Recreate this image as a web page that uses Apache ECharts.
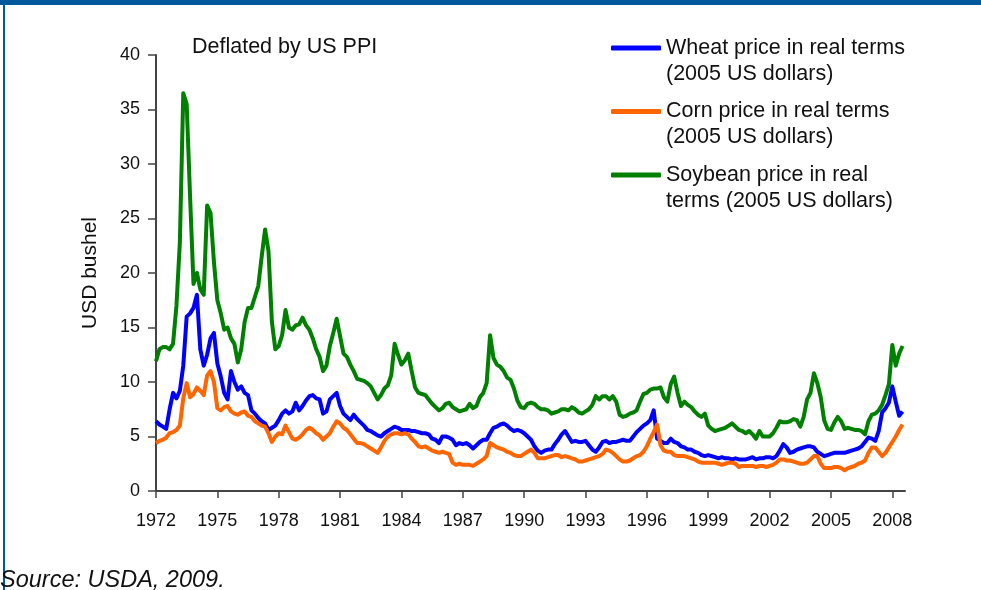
<!DOCTYPE html>
<html>
<head>
<meta charset="utf-8">
<script src="https://cdn.jsdelivr.net/npm/echarts@6/dist/echarts.min.js"></script>
<style>
  html, body { margin: 0; padding: 0; background: #fff; }
  #chart { width: 981px; height: 590px; }
</style>
</head>
<body>
<div id="chart"></div>
<script>
// bimonthly readings, 6 per year, starting Jan 1972
const startYear = 1972;
const perYear = 6;

const wheat = [
  6.4, 6.1, 5.9, 5.7, 7.5, 9.0,
  8.5, 9.2, 11.5, 16.0, 16.3, 16.8,
  18.0, 13.0, 11.5, 12.5, 14.0, 14.5,
  11.7, 10.5, 9.0, 8.4, 11.0, 10.0,
  9.3, 9.6, 9.0, 8.8, 7.4, 7.1,
  6.7, 6.4, 6.2, 5.6, 5.8, 6.0,
  6.5, 7.1, 7.4, 7.1, 7.3, 8.1,
  7.4, 7.8, 8.3, 8.7, 8.8, 8.5,
  8.4, 7.1, 7.3, 8.4, 8.7, 9.0,
  7.8, 7.1, 6.8, 6.5, 7.0, 6.6,
  6.3, 6.0, 5.6, 5.5, 5.3, 5.1,
  5.0, 5.3, 5.5, 5.7, 5.9, 5.8,
  5.6, 5.6, 5.6, 5.5, 5.5, 5.4,
  5.3, 5.3, 5.2, 4.8, 4.7, 4.4,
  5.0, 5.0, 4.9, 4.7, 4.2, 4.4,
  4.3, 4.4, 4.2, 3.9, 4.2, 4.5,
  4.7, 4.7, 5.3, 5.8, 5.9, 6.1,
  6.2, 6.0, 5.7, 5.5, 5.6, 5.5,
  5.3, 5.0, 4.7, 4.1, 3.7, 3.5,
  3.7, 3.8, 3.8, 4.3, 4.7, 5.2,
  5.5, 5.0, 4.5, 4.6, 4.5, 4.5,
  4.6, 4.2, 3.8, 3.6, 4.0, 4.5,
  4.6, 4.4, 4.5, 4.5, 4.6, 4.7,
  4.6, 4.6, 5.0, 5.4, 5.7, 6.0,
  6.2, 6.5, 7.4, 4.8, 4.6, 4.4,
  4.4, 4.8, 4.5, 4.4, 4.1, 4.0,
  3.8, 3.8, 3.6, 3.5, 3.3, 3.2,
  3.3, 3.2, 3.1, 3.0, 3.1, 3.0,
  3.0, 2.9, 3.0, 2.9, 2.9, 2.9,
  3.0, 3.1, 2.9, 3.0, 3.0, 3.1,
  3.1, 3.0, 3.2, 3.7, 4.3, 4.0,
  3.5, 3.6, 3.8, 3.9, 4.0, 4.1,
  4.1, 4.0, 3.6, 3.4, 3.2, 3.3,
  3.4, 3.5, 3.5, 3.5, 3.5, 3.6,
  3.7, 3.8, 3.9, 4.1, 4.5, 4.9,
  4.8, 4.6, 5.5, 7.2, 7.6, 8.1,
  9.6, 8.2, 6.9, 7.3
];

const corn = [
  4.4, 4.6, 4.7, 4.9, 5.3, 5.4,
  5.6, 6.0, 8.5, 9.9, 8.6, 8.9,
  9.5, 9.2, 8.8, 10.6, 11.0, 10.0,
  7.6, 7.4, 7.7, 7.8, 7.3, 7.1,
  7.0, 7.2, 7.3, 6.9, 6.8, 6.4,
  6.2, 6.0, 5.9, 5.3, 4.5, 5.0,
  5.3, 5.2, 6.0, 5.4, 4.8, 4.7,
  4.9, 5.2, 5.6, 5.8, 5.6, 5.3,
  5.1, 4.7, 5.0, 5.3, 5.9, 6.4,
  6.2, 5.8, 5.6, 5.2, 4.8, 4.4,
  4.4, 4.3, 4.1, 3.9, 3.7, 3.5,
  4.0, 4.6, 5.0, 5.2, 5.3, 5.3,
  5.2, 5.3, 5.2, 4.8, 4.5, 4.1,
  4.0, 4.1, 3.9, 3.7, 3.6, 3.5,
  3.6, 3.5, 3.4, 2.6, 2.4, 2.5,
  2.4, 2.4, 2.4, 2.3, 2.5, 2.7,
  2.9, 3.2, 4.4, 4.2, 4.0, 3.9,
  3.8, 3.6, 3.5, 3.3, 3.2, 3.2,
  3.4, 3.6, 3.8, 3.5, 3.0, 3.0,
  3.0, 3.1, 3.2, 3.3, 3.3, 3.1,
  3.2, 3.1, 3.0, 2.9, 2.7, 2.7,
  2.8, 2.9, 3.0, 3.1, 3.2, 3.4,
  3.8, 3.7, 3.5, 3.2, 2.9, 2.7,
  2.7, 2.8, 3.0, 3.2, 3.3, 3.6,
  4.1, 4.8, 5.4, 6.1, 4.2, 3.7,
  3.6, 3.6, 3.3, 3.2, 3.2, 3.2,
  3.1, 3.0, 2.9, 2.7, 2.6, 2.6,
  2.6, 2.6, 2.6, 2.5, 2.4, 2.5,
  2.6, 2.6, 2.5, 2.2, 2.3, 2.3,
  2.3, 2.3, 2.2, 2.3, 2.3, 2.2,
  2.3, 2.4, 2.6, 2.9, 2.9, 2.8,
  2.8, 2.7, 2.6, 2.5, 2.5, 2.6,
  2.9, 3.2, 3.2, 2.5, 2.1, 2.1,
  2.1, 2.2, 2.2, 2.1, 1.9, 2.1,
  2.2, 2.3, 2.5, 2.6, 2.8, 3.5,
  4.0, 4.0, 3.6, 3.2, 3.5, 4.0,
  4.5, 5.0, 5.6, 6.1
];

const soybean = [
  11.9, 13.0, 13.2, 13.2, 13.0, 13.5,
  17.0, 22.8, 36.5, 35.5, 27.0, 19.0,
  20.0, 18.5, 18.0, 26.2, 25.5, 21.0,
  17.5, 16.3, 14.8, 15.0, 14.0, 13.5,
  11.8, 13.0, 15.5, 16.8, 16.8, 17.8,
  18.8, 21.5, 24.0, 22.0, 15.5, 13.0,
  13.3, 14.3, 16.6, 15.0, 14.8, 15.2,
  15.3, 15.9, 15.2, 14.8, 14.0, 13.0,
  12.3, 11.0, 11.5, 13.3, 14.5, 15.8,
  14.2, 12.6, 12.3, 11.6, 11.0, 10.3,
  10.2, 10.1, 9.9, 9.6, 9.0, 8.4,
  8.8, 9.4, 9.7, 10.6, 13.5, 12.5,
  11.6, 12.0, 12.6, 11.0, 9.5, 9.0,
  8.9, 8.8, 8.4, 8.0, 7.7, 7.4,
  7.6, 8.0, 8.1, 7.7, 7.5, 7.3,
  7.4, 7.5, 8.0, 7.6, 7.8, 8.6,
  9.0, 9.9, 14.3, 12.2, 11.6, 11.4,
  11.0, 10.4, 10.2, 9.4, 8.3, 7.7,
  7.6, 8.0, 8.1, 8.0, 7.7, 7.5,
  7.5, 7.4, 7.1, 7.2, 7.3, 7.5,
  7.5, 7.4, 7.7, 7.5, 7.2, 7.1,
  7.3, 7.5, 7.9, 8.7, 8.4, 8.7,
  8.7, 8.4, 8.7, 8.2, 7.0, 6.8,
  6.9, 7.1, 7.2, 7.4, 8.2, 8.9,
  9.0, 9.3, 9.4, 9.4, 9.5, 8.6,
  8.2, 9.8, 10.5, 9.0, 7.8, 8.2,
  7.9, 7.7, 7.3, 7.0, 6.8, 7.1,
  6.0, 5.7, 5.5, 5.6, 5.7, 5.8,
  6.0, 6.2, 5.9, 5.6, 5.5, 5.3,
  5.5, 5.2, 4.8, 5.5, 5.0, 5.0,
  5.0, 5.3, 5.8, 6.4, 6.3, 6.3,
  6.4, 6.6, 6.5, 5.9, 6.8, 8.4,
  9.0, 10.8, 9.9, 8.6, 6.5, 5.7,
  5.6, 6.3, 6.8, 6.4, 5.7, 5.8,
  5.7, 5.6, 5.6, 5.5, 5.2, 6.4,
  7.0, 7.1, 7.4, 7.9, 8.8, 9.8,
  13.4, 11.5, 12.6, 13.3
];

const seriesNames = ['Wheat price in real terms', 'Corn price in real terms', 'Soybean price in real'];
const seriesSecondLines = ['(2005 US dollars)', '(2005 US dollars)', 'terms (2005 US dollars)'];
const seriesColors = ['#0000ff', '#ff6600', '#008000'];
const yearTicks = [1972, 1975, 1978, 1981, 1984, 1987, 1990, 1993, 1996, 1999, 2002, 2005, 2008];

const FONT = 'Liberation Sans, Arial, sans-serif';
const toPairs = vals => vals.map((v, i) => [startYear + i / perYear, v]);

const chart = echarts.init(document.getElementById('chart'), null, { renderer: 'canvas' });

chart.setOption({
  backgroundColor: '#fff',
  animation: false,
  grid: { left: 156, right: 76, top: 55, bottom: 99 },
  xAxis: {
    type: 'value',
    min: yearTicks[0],
    max: 2008.62,
    interval: 3,
    axisLine: { lineStyle: { color: '#444', width: 2 } },
    axisTick: { length: 7, lineStyle: { color: '#444', width: 1.5 } },
    axisLabel: { color: '#111', fontSize: 18, fontFamily: FONT, margin: 21, formatter: v => String(v) },
    splitLine: { show: false },
  },
  yAxis: {
    type: 'value',
    min: 0,
    max: 40,
    interval: 5,
    name: 'USD bushel',
    nameLocation: 'middle',
    nameRotate: 90,
    nameGap: 55,
    nameTextStyle: { color: '#111', fontSize: 21, fontFamily: FONT },
    axisLine: { show: true, lineStyle: { color: '#444', width: 2 } },
    axisTick: { show: true, inside: false, length: 8, lineStyle: { color: '#444', width: 1.5 } },
    axisLabel: { color: '#111', fontSize: 18, fontFamily: FONT, margin: 16 },
    splitLine: { show: false },
  },
  legend: {
    orient: 'vertical',
    left: 611,
    top: 36,
    padding: 0,
    itemWidth: 50,
    itemHeight: 5,
    itemGap: 39.5,
    icon: 'roundRect',
    data: seriesNames,
    textStyle: { color: '#111', fontSize: 21.5, fontFamily: FONT, lineHeight: 24 },
  },
  series: [
    { name: seriesNames[2], idx: 2 },
    { name: seriesNames[0], idx: 0 },
    { name: seriesNames[1], idx: 1 },
  ].map(s => ({
    name: s.name,
    type: 'line',
    showSymbol: false,
    data: toPairs([wheat, corn, soybean][s.idx]),
    lineStyle: { color: seriesColors[s.idx], width: 4, join: 'round' },
    itemStyle: { color: seriesColors[s.idx] },
  })),
  graphic: [
    { type: 'rect', left: 0, top: 0, shape: { width: 981, height: 5 }, style: { fill: '#00599a' } },
    { type: 'rect', left: 3, top: 0, shape: { width: 2, height: 590 }, style: { fill: '#00599a' } },
    { type: 'text', left: 192, top: 36, style: { text: 'Deflated by US PPI', fill: '#111', fontSize: 21.5, fontFamily: FONT } },
    ...seriesSecondLines.map((t, i) => ({
      type: 'text', left: 666, top: 63 + i * 63.5,
      style: { text: t, fill: '#111', fontSize: 21.5, fontFamily: FONT },
    })),
    { type: 'text', left: 0, top: 569, style: { text: 'Source: USDA, 2009.', fill: '#111', fontSize: 23.5, fontStyle: 'italic', fontFamily: FONT } },
  ],
});
</script>
</body>
</html>
